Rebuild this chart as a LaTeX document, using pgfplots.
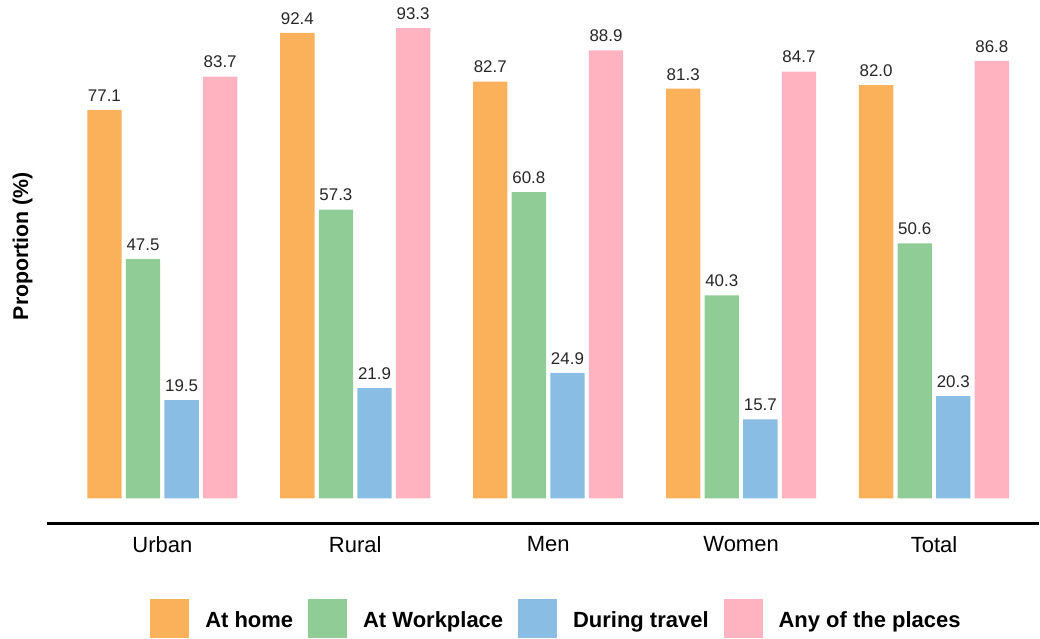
\documentclass[border=0pt]{standalone}
\usepackage{fontspec}
\setmainfont{Liberation Sans}
\usepackage{pgfplots}
\pgfplotsset{compat=1.18}

\definecolor{cHome}{HTML}{FBB05A}
\definecolor{cWork}{HTML}{8FCC96}
\definecolor{cTravel}{HTML}{8ABDE4}
\definecolor{cAny}{HTML}{FFB3C1}

\pgfplotsset{
  sq legend/.style={legend image code/.code={%
      \fill[##1,draw=none] (0pt,-13.2pt) rectangle (29.25pt,16.05pt);}},
}

\begin{document}
\begin{tikzpicture}
\begin{axis}[
  scale only axis,
  width=744.75pt, height=393pt,
  xmin=-0.598, xmax=4.544,
  ymin=-4.96, ymax=98.9,
  clip=false,
  ybar, bar width=0.178,
  axis x line*=bottom,
  axis y line*=left,
  y axis line style={draw=none},
  x axis line style={line width=1.6pt, black},
  xtick={0,1,2,3,4},
  xticklabels={Urban,Rural,Men,Women,Total},
  ytick=\empty,
  major tick length=0pt,
  xticklabel style={font=\fontsize{16.5}{20}\selectfont, yshift=-6pt},
  ylabel={Proportion (\%)},
  every axis y label/.style={at={(axis description cs:-0.0191,0.53)},
    rotate=90, anchor=base, inner sep=0pt,
    font=\bfseries\fontsize{16}{19}\selectfont},
  nodes near coords={\pgfmathprintnumber[fixed,fixed zerofill,precision=1,assume math mode=true]{\pgfplotspointmeta}},
  every node near coord/.append style={font=\fontsize{12.7}{15}\selectfont,
    inner sep=0pt, anchor=south, yshift=6.2pt, text=black!85},
  legend columns=4,
  legend cell align=left,
  legend style={at={(0.5126,-0.1823)}, anchor=center, draw=none, fill=none,
    inner sep=0pt, font=\bfseries\fontsize{16.5}{20}\selectfont,
    nodes={inner sep=0pt},
    /tikz/every odd column/.append style={column sep=12pt},
    /tikz/every even column/.append style={column sep=11.25pt}},
]
\addplot[fill=cHome, draw=none, bar shift=-0.3, sq legend] coordinates
  {(0,77.1) (1,92.4) (2,82.7) (3,81.3) (4,82.0)};
\addplot[fill=cWork, draw=none, bar shift=-0.1, sq legend] coordinates
  {(0,47.5) (1,57.3) (2,60.8) (3,40.3) (4,50.6)};
\addplot[fill=cTravel, draw=none, bar shift=0.1, sq legend] coordinates
  {(0,19.5) (1,21.9) (2,24.9) (3,15.7) (4,20.3)};
\addplot[fill=cAny, draw=none, bar shift=0.3, sq legend] coordinates
  {(0,83.7) (1,93.3) (2,88.9) (3,84.7) (4,86.8)};
\legend{At home, At Workplace, During travel, Any of the places}
% keep the left margin in front of the rotated label
\path (rel axis cs:-0.04733,0.5);
\end{axis}
\end{tikzpicture}
\end{document}
